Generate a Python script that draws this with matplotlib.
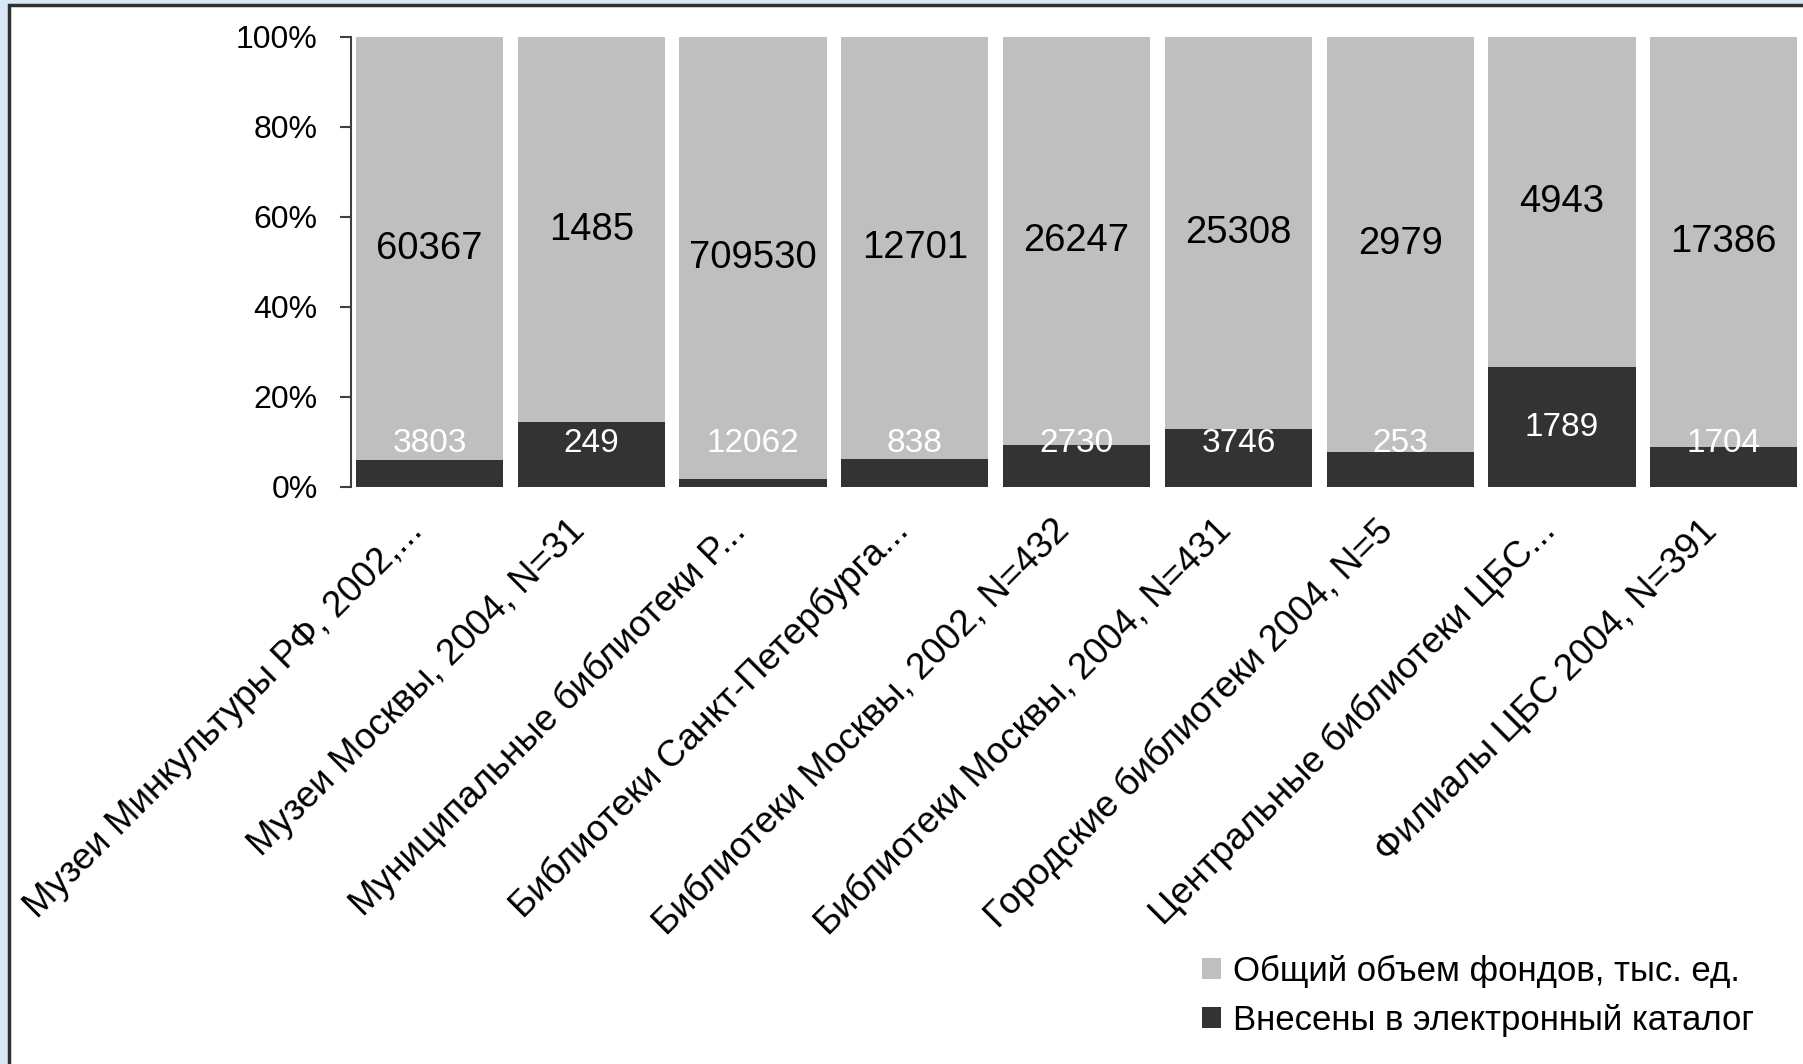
import numpy as np
import matplotlib
matplotlib.use("Agg")
import matplotlib.pyplot as plt
import matplotlib.transforms as mtransforms
from matplotlib.patches import Patch, Rectangle
from matplotlib.ticker import PercentFormatter

plt.rcParams["font.family"] = ["Liberation Sans", "DejaVu Sans"]

categories = [
    "Музеи Минкультуры РФ, 2002,...",
    "Музеи Москвы, 2004, N=31",
    "Муниципальные библиотеки Р...",
    "Библиотеки Санкт-Петербурга...",
    "Библиотеки Москвы, 2002, N=432",
    "Библиотеки Москвы, 2004, N=431",
    "Городские библиотеки 2004, N=5",
    "Центральные библиотеки ЦБС...",
    "Филиалы ЦБС 2004, N=391",
]
total_fund = [60367, 1485, 709530, 12701, 26247, 25308, 2979, 4943, 17386]
in_catalog = [3803, 249, 12062, 838, 2730, 3746, 253, 1789, 1704]
legend_labels = ["Общий объем фондов, тыс. ед.", "Внесены в электронный каталог"]

LIGHT = "#bfbfbf"
DARK = "#333333"

total_arr = np.array(total_fund, dtype=float)
cat_arr = np.array(in_catalog, dtype=float)
share_cat = cat_arr / (total_arr + cat_arr)
share_total = total_arr / (total_arr + cat_arr)

fig = plt.figure(figsize=(18.03, 10.64), dpi=100)
fig.patch.set_facecolor("#d9e8f6")
# white slide area with a dark frame on top and left
frame = Rectangle((9 / 1803, -0.05), 1.1, 1.05 - 5 / 1064,
                  transform=fig.transFigure, facecolor="white",
                  edgecolor="#303030", linewidth=2.5, zorder=-10)
fig.add_artist(frame)

ax = fig.add_axes([351 / 1803, 1 - 487 / 1064, 1 - 351 / 1803, 450 / 1064])
ax.set_facecolor("none")

x = np.arange(len(categories))
ax.bar(x, share_cat, width=0.91, color=DARK)
ax.bar(x, share_total, width=0.91, bottom=share_cat, color=LIGHT)

for i in range(len(categories)):
    ax.text(x[i], share_cat[i] + share_total[i] / 2, str(total_fund[i]),
            ha="center", va="center", fontsize=27.5, color="black")
    ax.text(x[i], max(share_cat[i] / 2, 0.096), str(in_catalog[i]),
            ha="center", va="center", fontsize=24, color="white")

ax.set_xlim(-0.485, 8.49)
ax.set_ylim(0, 1)
ax.set_yticks(np.arange(0, 1.01, 0.2))
ax.yaxis.set_major_formatter(PercentFormatter(1.0, decimals=0))
ax.tick_params(axis="y", labelsize=23, length=8, width=1.5, color="#404040", pad=16)
ax.set_xticks(x)
ax.set_xticklabels(categories, rotation=45, ha="right", va="center",
                   rotation_mode="anchor", fontsize=26.5)
ax.tick_params(axis="x", length=0, pad=28)

# labels sit a little left of the bar centres
shift = mtransforms.ScaledTranslation(-0.12, 0, fig.dpi_scale_trans)
for lbl in ax.get_xticklabels():
    lbl.set_transform(lbl.get_transform() + shift)

for side in ["top", "right", "bottom"]:
    ax.spines[side].set_visible(False)
ax.spines["left"].set_color("#404040")
ax.spines["left"].set_linewidth(1.5)

handles = [Patch(facecolor=LIGHT), Patch(facecolor=DARK)]
fig.legend(handles, legend_labels, loc="upper left",
           bbox_to_anchor=(1202 / 1803, 1 - 955 / 1064),
           frameon=False, fontsize=25, handlelength=0.55, handleheight=0.55,
           handletextpad=0.35, labelspacing=0.45, borderpad=0, borderaxespad=0)

fig.savefig("out.png", dpi=100, facecolor=fig.get_facecolor())
